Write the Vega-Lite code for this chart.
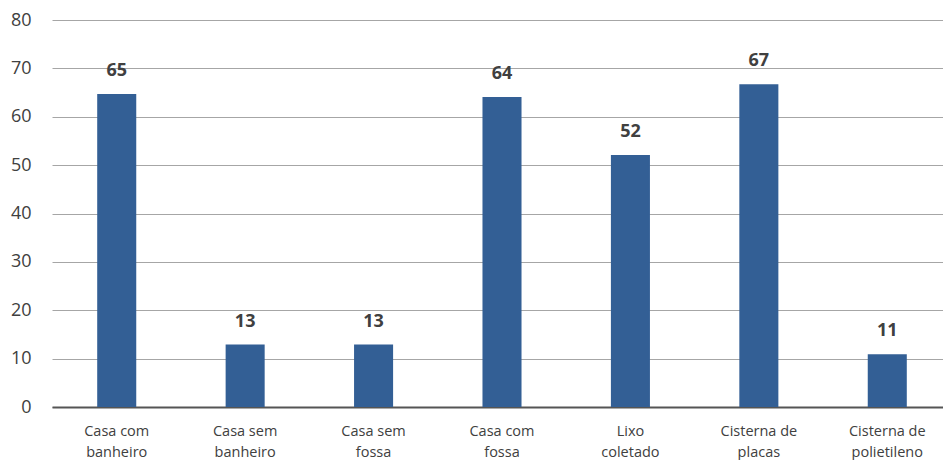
{
  "$schema": "https://vega.github.io/schema/vega-lite/v6.json",
  "autosize": "none",
  "width": 891,
  "height": 387,
  "padding": {"left": 52, "top": 20, "right": 0, "bottom": 53},
  "background": "white",
  "config": {"view": {"stroke": null}, "font": "Open Sans"},
  "data": {"values": [
    {"cat": "Casa com|banheiro", "v": 64.7},
    {"cat": "Casa sem|banheiro", "v": 12.9},
    {"cat": "Casa sem|fossa", "v": 12.9},
    {"cat": "Casa com|fossa", "v": 64.1},
    {"cat": "Lixo|coletado", "v": 52.1},
    {"cat": "Cisterna de|placas", "v": 66.7},
    {"cat": "Cisterna de|polietileno", "v": 10.9}
  ]},
  "encoding": {
    "x": {"field": "cat", "type": "nominal", "sort": null,
      "scale": {"range": [0, 900], "paddingInner": 0.696, "paddingOuter": 0.352},
      "axis": {"title": null, "labelAngle": 0, "labelExpr": "split(datum.value, '|')",
        "labelFontSize": 14.5, "labelColor": "#404040", "labelLineHeight": 21, "labelPadding": 28,
        "labelBaseline": "alphabetic", "ticks": false, "domainColor": "#555555", "domainWidth": 2, "labelFont": "Open Sans"}},
    "y": {"field": "v", "type": "quantitative",
      "scale": {"domain": [0, 80]},
      "axis": {"title": null, "values": [0,10,20,30,40,50,60,70,80], "labelFontSize": 18, "labelColor": "#404040",
        "labelPadding": 21, "ticks": false, "domain": false, "gridColor": "#a6a6a6", "gridWidth": 1, "gridOpacity": 1}}
  },
  "layer": [
    {"mark": {"type": "bar", "color": "#335f95"}},
    {"mark": {"type": "text", "dy": -14, "baseline": "bottom", "fontSize": 18, "fontWeight": "bold", "color": "#404040"},
      "encoding": {"text": {"field": "v", "type": "quantitative", "format": ".0f"}}}
  ]
}
